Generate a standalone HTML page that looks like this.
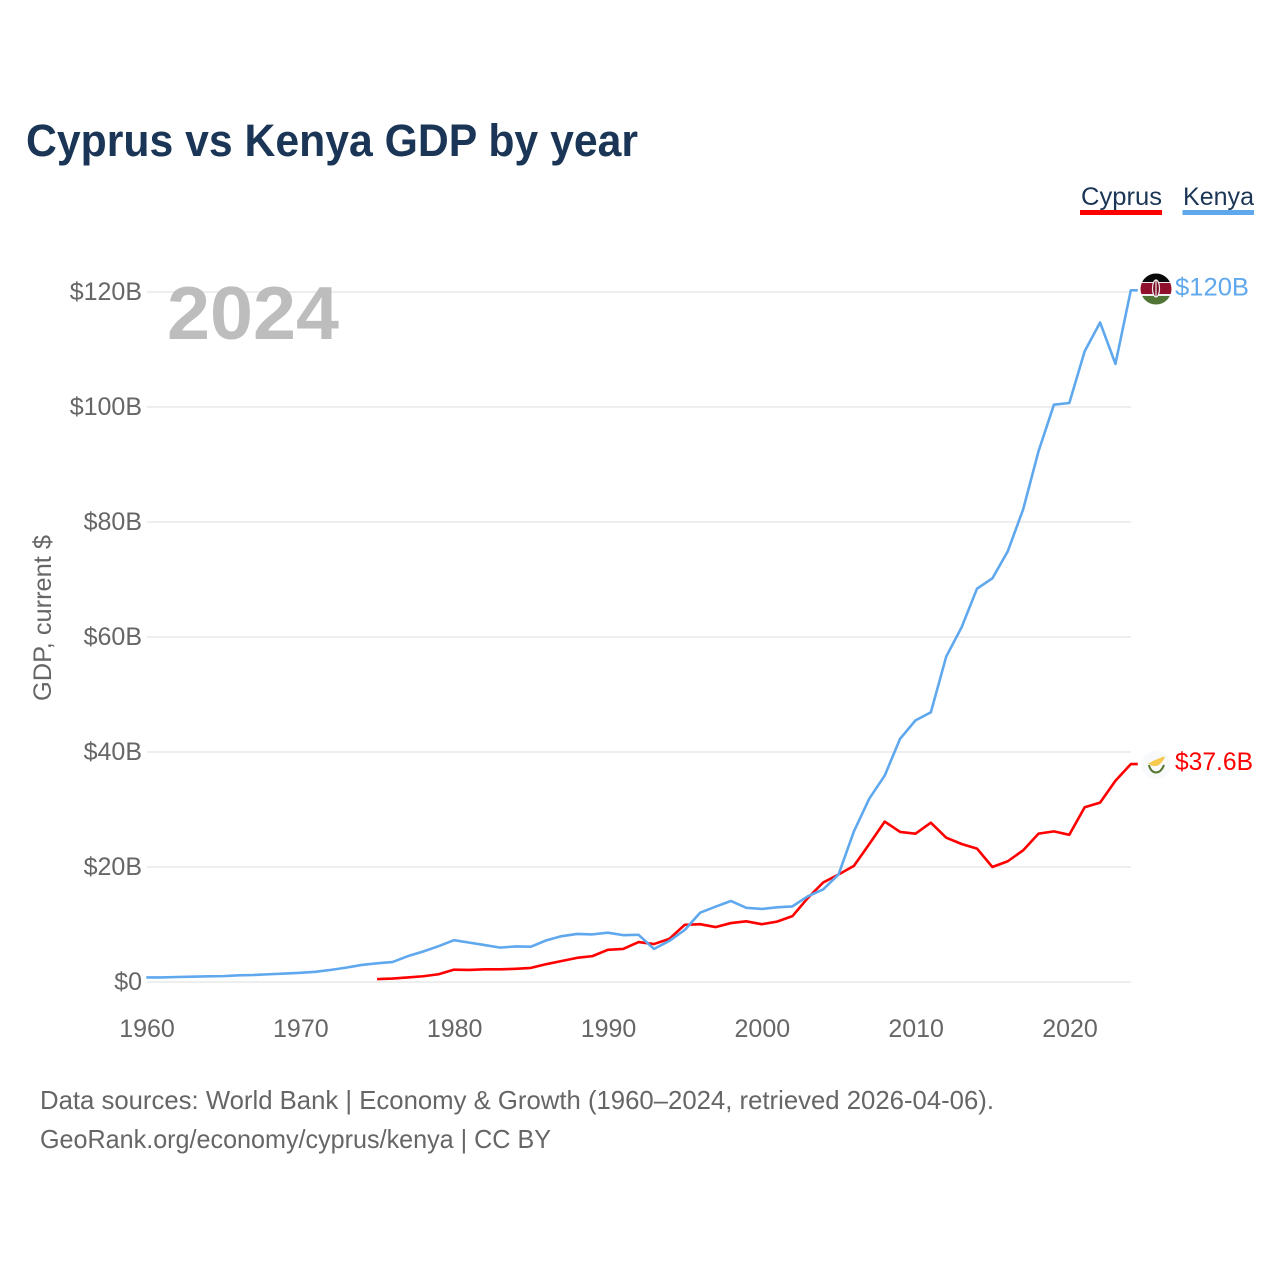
<!DOCTYPE html>
<html lang="en">
<head>
<meta charset="utf-8">
<title>Cyprus vs Kenya GDP by year</title>
<style>
html,body{margin:0;padding:0;background:#fff;width:1280px;height:1280px;overflow:hidden}
svg{display:block}
text{font-family:"Liberation Sans",sans-serif}
</style>
</head>
<body>
<svg id="chart" xmlns="http://www.w3.org/2000/svg" width="1280" height="1280" viewBox="0 0 1280 1280">
  <rect width="1280" height="1280" fill="#fff"/>
  <text x="26" y="156" font-size="45" font-weight="700" fill="#1a3555" textLength="612" lengthAdjust="spacingAndGlyphs">Cyprus vs Kenya GDP by year</text>
  <g id="gridlines"></g>
  <text x="167" y="339" font-size="75" font-weight="700" fill="#bdbdbd" textLength="172" lengthAdjust="spacingAndGlyphs">2024</text>
  <g id="y-ticks"></g>
  <g id="x-ticks"></g>
  <text transform="translate(51,701) rotate(-90)" font-size="25" fill="#666" textLength="166" lengthAdjust="spacingAndGlyphs">GDP, current $</text>

  <g>
    <g>
      <text x="1081" y="205" font-size="25" fill="#1a3555" textLength="81" lengthAdjust="spacingAndGlyphs">Cyprus</text>
      <rect x="1080" y="210" width="82" height="5" fill="#ff0000"/>
    </g>
    <g>
      <text x="1183" y="205" font-size="25" fill="#1a3555" textLength="71" lengthAdjust="spacingAndGlyphs">Kenya</text>
      <rect x="1182.500" y="210" width="71.500" height="5" fill="#5fa8ee"/>
    </g>
  </g>

  <g id="series"></g>
  <g id="end-labels"></g>

  <defs>
    <clipPath id="clip-kenya"><circle cx="1156" cy="289" r="15.500"/></clipPath>
  </defs>
  <g clip-path="url(#clip-kenya)">
    <rect x="1140" y="273" width="32" height="9" fill="#0a0a0a"/>
    <rect x="1140" y="282" width="32" height="14" fill="#eeeeee"/>
    <rect x="1140" y="283" width="32" height="11" fill="#8f0f2c"/>
    <rect x="1140" y="296" width="32" height="9" fill="#4f7433"/>
    <ellipse cx="1156" cy="288.500" rx="3.500" ry="8.500" fill="#7a0c24" stroke="#eeeeee" stroke-width="1.200"/>
    <rect x="1155.400" y="280" width="1.200" height="17" fill="#eeeeee"/>
  </g>
  <g>
    <circle cx="1156" cy="765" r="14.500" fill="#f7f9fb"/>
    <path d="M1148 763 C1151 763 1152 761 1155 760 C1158 759 1161 757 1165 756.500 C1164 760 1162 762 1160 764 C1157 767 1152 767 1148 763 Z" fill="#f6c94f"/>
    <path d="M1149 765 C1150 770 1153 772.500 1156 772.500 C1159 772.500 1162 770 1164 765" fill="none" stroke="#56762f" stroke-width="2"/>
  </g>
</svg>
<script>
const years = [1960,1961,1962,1963,1964,1965,1966,1967,1968,1969,1970,1971,1972,1973,1974,1975,1976,1977,1978,1979,1980,1981,1982,1983,1984,1985,1986,1987,1988,1989,1990,1991,1992,1993,1994,1995,1996,1997,1998,1999,2000,2001,2002,2003,2004,2005,2006,2007,2008,2009,2010,2011,2012,2013,2014,2015,2016,2017,2018,2019,2020,2021,2022,2023,2024];
const kenyaValues = [0.79,0.79,0.87,0.93,0.99,1.02,1.17,1.22,1.35,1.46,1.6,1.77,2.11,2.5,2.97,3.25,3.47,4.49,5.3,6.23,7.27,6.85,6.43,5.98,6.19,6.14,7.24,7.97,8.36,8.28,8.57,8.15,8.21,5.75,7.15,9.05,12.05,13.1,14.09,12.9,12.7,12.99,13.15,14.9,16.1,18.7,26.2,31.9,35.9,42.3,45.5,46.9,56.6,61.7,68.4,70.2,74.9,82.2,92.3,100.4,100.7,109.7,114.7,107.5,120.3];
const cyprusValues = [null,null,null,null,null,null,null,null,null,null,null,null,null,null,null,0.5,0.6,0.8,1.0,1.35,2.15,2.1,2.2,2.2,2.3,2.45,3.1,3.65,4.2,4.5,5.6,5.75,6.95,6.6,7.5,9.95,10.05,9.55,10.25,10.55,10.05,10.5,11.45,14.6,17.3,18.7,20.2,24,27.9,26.1,25.8,27.7,25.1,24,23.2,20,21,22.9,25.8,26.2,25.6,30.4,31.2,35,37.9];
const yTickValues = [0,20,40,60,80,100,120];
const yTickLabels = ["$0","$20B","$40B","$60B","$80B","$100B","$120B"];
const xTickValues = [1960,1970,1980,1990,2000,2010,2020];
const xTickLabels = ["1960","1970","1980","1990","2000","2010","2020"];
const endLabels = ["$120B","$37.6B"];

const NS = "http://www.w3.org/2000/svg";
function xScale(year){ return 147 + (year - 1960) * (1070 - 147) / 60; }
function yScale(value){ return 982 - value * (982 - 292) / 120; }
function lineX(year){ return xScale(year) - 0.7; }
function make(tag, parent, attrs){
  const el = document.createElementNS(NS, tag);
  for (const k in attrs) el.setAttribute(k, attrs[k]);
  parent.appendChild(el);
  return el;
}

const gridG = document.getElementById("gridlines");
const yG = document.getElementById("y-ticks");
yTickValues.forEach(function(v, i){
  const line = make("line", gridG, {x1:147, x2:1131, y1:yScale(v), y2:yScale(v), stroke:"#eeeeee", "stroke-width":2});
  
  
  const t = make("text", yG, {x:142, y:yScale(v)+8, "text-anchor":"end", "font-size":25, fill:"#666"});
  t.textContent = yTickLabels[i];
  
  
});

const xG = document.getElementById("x-ticks");
xTickValues.forEach(function(v, i){
  const t = make("text", xG, {x:xScale(v), y:1037, "text-anchor":"middle", "font-size":25, fill:"#666"});
  t.textContent = xTickLabels[i];
  
  
});

function linePoints(values){
  const pts = [];
  let last = null;
  values.forEach(function(v, i){
    if (v === null) return;
    pts.push(lineX(years[i]).toFixed(2) + "," + yScale(v).toFixed(2));
    last = v;
  });
  pts.push(lineX(2024.45).toFixed(2) + "," + yScale(last).toFixed(2));
  return pts.join(" ");
}
const seriesG = document.getElementById("series");
const cyprusLine = make("polyline", seriesG, {points:linePoints(cyprusValues), fill:"none", stroke:"#ff0000", "stroke-width":2.6, "stroke-linejoin":"round"});


const kenyaLine = make("polyline", seriesG, {points:linePoints(kenyaValues), fill:"none", stroke:"#5fa8ee", "stroke-width":2.6, "stroke-linejoin":"round"});



const labelG = document.getElementById("end-labels");
const kenyaLabel = make("text", labelG, {x:1175, y:yScale(kenyaValues[kenyaValues.length-1])+5, "font-size":25, fill:"#5fa8ee", textLength:74, lengthAdjust:"spacingAndGlyphs"});
kenyaLabel.textContent = endLabels[0];


const cyprusLabel = make("text", labelG, {x:1175, y:yScale(cyprusValues[cyprusValues.length-1])+6, "font-size":25, fill:"#ff0000", textLength:78, lengthAdjust:"spacingAndGlyphs"});
cyprusLabel.textContent = endLabels[1];



const svg = document.getElementById("chart");
const src1 = make("text", svg, {x:40, y:1109, "font-size":26, fill:"#666", textLength:954, lengthAdjust:"spacingAndGlyphs"});
src1.textContent = "Data sources: World Bank | Economy & Growth (1960–2024, retrieved 2026-04-06).";


const src2 = make("text", svg, {x:40, y:1148, "font-size":26, fill:"#666", textLength:511, lengthAdjust:"spacingAndGlyphs"});
src2.textContent = "GeoRank.org/economy/cyprus/kenya | CC BY";


</script>
</body>
</html>
